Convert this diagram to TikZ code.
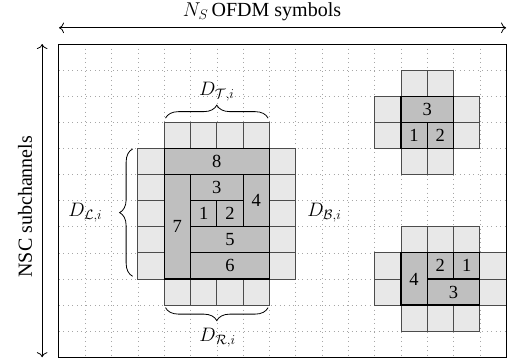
\documentclass[tikz,border=0pt]{standalone}
\usepackage{fix-cm}
\usepackage{fontspec}
\setmainfont{Liberation Serif}
\usetikzlibrary{decorations.pathreplacing,arrows.meta}

% one dark block of the allocation, with its number in the middle
\newcommand\dblock[6]{%
  \draw[darkcell] (#2,#3) rectangle (#4,#5);
  \node[cellnum] (#1) at ({(#2+#4)/2},{(#3+#5)/2}) {#6};}

\begin{document}
\begin{tikzpicture}[x=26.3pt,y=-26.1pt,
  font=\fontsize{18.5}{22}\selectfont,
  gridline/.style={black!35, line width=0.6pt, dash pattern=on 0.7pt off 3.8pt},
  lightcell/.style={draw=black!70, fill=black!9, line width=0.8pt},
  darkcell/.style={draw=black, fill=black!25, line width=1.2pt},
  cellnum/.style={inner sep=0pt},
  dimarrow/.style={line width=0.8pt, {To[scale=1.5]}-{To[scale=1.5]}},
  bracedec/.style={decorate, line width=0.8pt,
    decoration={brace, amplitude=13pt, raise=0pt}},
  lbl/.style={inner sep=1pt},
  axislbl/.style={inner sep=1pt, font=\fontsize{20}{24}\selectfont},
  dlbl/.style={inner sep=1pt, font=\fontsize{19.5}{23}\selectfont}]

\useasboundingbox (-2.243,-1.686) rectangle (17.11,12.18);

% dotted time-frequency grid
\foreach \c in {1,...,16} \draw[gridline] (\c,0) -- (\c,12);
\foreach \r in {1,...,11} \draw[gridline] (0,\r) -- (17,\r);

% ---- large cluster ----
\foreach \c in {4,...,7} {
  \draw[lightcell] (\c,3) rectangle ++(1,1);
  \draw[lightcell] (\c,9) rectangle ++(1,1);}
\foreach \r in {4,...,8} {
  \draw[lightcell] (3,\r) rectangle ++(1,1);
  \draw[lightcell] (8,\r) rectangle ++(1,1);}
\dblock{a8}{4}{4}{8}{5}{8}
\dblock{a7}{4}{5}{5}{9}{7}
\dblock{a3}{5}{5}{7}{6}{3}
\dblock{a4}{7}{5}{8}{7}{4}
\dblock{a1}{5}{6}{6}{7}{1}
\dblock{a2}{6}{6}{7}{7}{2}
\dblock{a5}{5}{7}{8}{8}{5}
\dblock{a6}{5}{8}{8}{9}{6}

% ---- upper right cluster ----
\foreach \p in {(13,1),(14,1),(12,2),(15,2),(12,3),(15,3),(13,4),(14,4)}
  \draw[lightcell] \p rectangle ++(1,1);
\dblock{b3}{13}{2}{15}{3}{3}
\dblock{b1}{13}{3}{14}{4}{1}
\dblock{b2}{14}{3}{15}{4}{2}

% ---- lower right cluster ----
\foreach \p in {(13,7),(14,7),(15,7),(12,8),(16,8),(12,9),(16,9),(13,10),(14,10),(15,10)}
  \draw[lightcell] \p rectangle ++(1,1);
\dblock{c4}{13}{8}{14}{10}{4}
\dblock{c2}{14}{8}{15}{9}{2}
\dblock{c1}{15}{8}{16}{9}{1}
\dblock{c3}{14}{9}{16}{10}{3}

% frame of the resource grid
\draw[line width=1pt] (0,0) rectangle (17,12);

% dimension arrows
\coordinate (hL) at (0,-0.62);
\coordinate (hR) at (17,-0.62);
\coordinate (vT) at (-0.64,0);
\coordinate (vB) at (-0.64,12);
\draw[dimarrow] (hL) -- (hR);
\draw[dimarrow] (vT) -- (vB);
\node[axislbl] (xlab) at (7.72,-1.25) {$N_S$\,OFDM symbols};
\node[axislbl, rotate=90] (ylab) at (-1.29,6.23) {NSC subchannels};

% braces around the large cluster
\coordinate (tL) at (4.05,2.84);
\coordinate (tR) at (7.95,2.84);
\coordinate (bL) at (4.05,10.1);
\coordinate (bR) at (7.95,10.1);
\coordinate (lT) at (2.8,4.02);
\coordinate (lB) at (2.8,8.9);
\draw[bracedec] (tL) -- (tR);
\draw[bracedec] (bR) -- (bL);
\draw[bracedec] (lB) -- (lT);

\node[dlbl] (dT) at (6.0,1.83) {$D_{\mathcal{T},i}$};
\node[dlbl] (dR) at (6.03,11.26) {$D_{\mathcal{R},i}$};
\node[dlbl] (dL) at (1.0,6.45) {$D_{\mathcal{L},i}$};
\node[dlbl] (dB) at (10.09,6.45) {$D_{\mathcal{B},i}$};
\end{tikzpicture}
\end{document}
